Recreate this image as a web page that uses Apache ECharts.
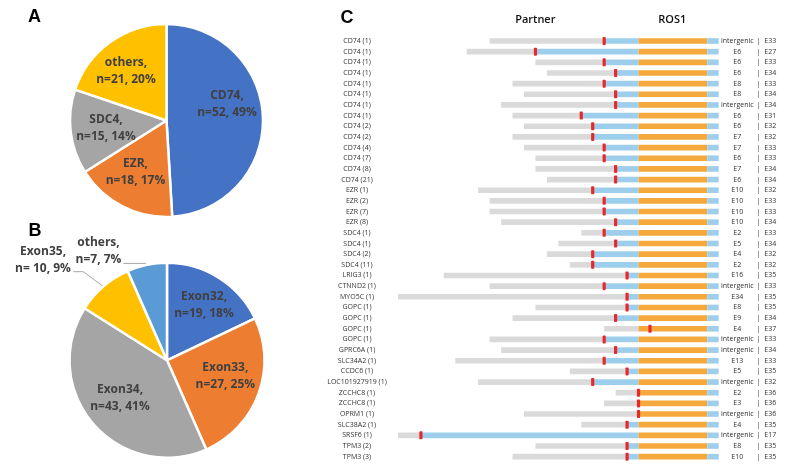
<!DOCTYPE html>
<html><head><meta charset="utf-8">
<script src="https://cdn.jsdelivr.net/npm/echarts@6/dist/echarts.min.js"></script>
<style>html,body{margin:0;padding:0;background:#fff}#c{width:799px;height:476px}</style>
</head><body><div id="c"></div>
<script>
// ---------- DATA ----------
const partnerNames = ['CD74 (1)','CD74 (1)','CD74 (1)','CD74 (1)','CD74 (1)','CD74 (1)','CD74 (1)','CD74 (1)','CD74 (2)','CD74 (2)','CD74 (4)','CD74 (7)','CD74 (8)','CD74 (21)','EZR (1)','EZR (2)','EZR (7)','EZR (8)','SDC4 (1)','SDC4 (1)','SDC4 (2)','SDC4 (11)','LRIG3 (1)','CTNND2 (1)','MYO5C (1)','GOPC (1)','GOPC (1)','GOPC (1)','GOPC (1)','GPRC6A (1)','SLC34A2 (1)','CCDC6 (1)','LOC101927919 (1)','ZCCHC8 (1)','ZCCHC8 (1)','OPRM1 (1)','SLC38A2 (1)','SRSF6 (1)','TPM3 (2)','TPM3 (3)'];
const partnerExons = ['intergenic','E6','E6','E6','E8','E8','intergenic','E6','E6','E7','E7','E6','E7','E6','E10','E10','E10','E10','E2','E5','E4','E2','E16','intergenic','E34','E8','E9','E4','intergenic','intergenic','E13','E5','intergenic','E2','E3','intergenic','E4','intergenic','E8','E10'];
const ros1Exons = ['E33','E27','E33','E34','E33','E34','E34','E31','E32','E32','E33','E33','E34','E34','E32','E33','E33','E34','E33','E34','E32','E32','E35','E33','E35','E35','E34','E37','E33','E34','E33','E35','E32','E36','E36','E36','E35','E17','E35','E35'];
// partner segment start (relative units, ROS1 junction = 0)
const partnerStart = [-13,-15,-9,-8,-11,-10,-12,-11,-10,-11,-10,-9,-9,-8,-14,-13,-13,-12,-5,-7,-8,-6,-17,-13,-21,-9,-11,-3,-13,-12,-16,-6,-14,-2,-3,-10,-5,-21,-9,-11];
// fusion breakpoint (red marker)
const breakpoints = [-3,-9,-3,-2,-3,-2,-2,-5,-4,-4,-3,-3,-2,-2,-4,-3,-3,-2,-3,-2,-4,-4,-1,-3,-1,-1,-2,1,-3,-2,-3,-1,-4,0,0,0,-1,-19,-1,-1];
const ros1Domain = [0, 6];
const ros1End = 7;

const pieANames = ['CD74','EZR','SDC4','others'];
const pieAValues = [52,18,15,21];
const pieBNames = ['Exon32','Exon33','Exon34','Exon35','others'];
const pieBValues = [19,27,43,10,7];

// ---------- LAYOUT / STYLE ----------
const pieAColors = ['#4472C4','#ED7D31','#A5A5A5','#FFC000'];
const pieBColors = ['#4472C4','#ED7D31','#A5A5A5','#FFC000','#5B9BD5'];
const pieALabelXY = [[227,104.5],[135.5,172],[106,128.3],[126,70.7]];
const pieBLabelXY = [[204,305.5],[225.3,376.3],[120,398],[43,260],[98.5,251.3]];
const GRAY = '#dadada', BLUE = '#9dcfec', ORANGE = '#f5a93c', RED = '#e8282b';

const chart = echarts.init(document.getElementById('c'), null, {renderer: 'canvas'});

function pieLabelFmt(sum) {
  return function (p) {
    const pct = Math.round(p.value / sum * 100);
    const sp = p.name === 'Exon35' ? ' ' : '';
    return p.name + ',\nn=' + sp + p.value + ', ' + pct + '%';
  };
}
const sumA = pieAValues.reduce((a, b) => a + b, 0);
const sumB = pieBValues.reduce((a, b) => a + b, 0);

const labelStyle = {
  fontFamily: 'Open Sans', fontSize: 12, fontWeight: 'bold', color: '#404040', lineHeight: 17
};

function renderItem(params, api) {
  const idx = api.value(0), s = api.value(1), bp = api.value(2);
  const band = api.size([0, 1])[1];
  const h = band * 0.53;
  const ch = [];
  function rect(x0, x1, color) {
    const p0 = api.coord([x0, idx]);
    const p1 = api.coord([x1, idx]);
    return {type: 'rect', shape: {x: p0[0], y: p0[1] - h / 2, width: p1[0] - p0[0], height: h}, style: {fill: color}};
  }
  ch.push(rect(s, Math.min(bp, ros1Domain[0]), GRAY));
  if (bp < ros1Domain[0]) ch.push(rect(bp, ros1Domain[0], BLUE));
  ch.push(rect(ros1Domain[0], ros1Domain[1], ORANGE));
  ch.push(rect(ros1Domain[1], ros1End, BLUE));
  const pc = api.coord([bp, idx]);
  ch.push({type: 'rect', shape: {x: pc[0] - 1.6, y: pc[1] - 4, width: 3.2, height: 8, r: 0.8}, style: {fill: RED}});
  return {type: 'group', children: ch};
}

const rowIds = partnerNames.map((_, i) => String(i));
const rows = partnerNames.map((_, i) => [i, partnerStart[i], breakpoints[i]]);

const option = {
  animation: false,
  backgroundColor: '#fff',
  grid: {left: 398, right: 80.3, top: 35.67, bottom: 14, containLabel: false, outerBoundsMode: 'none'},
  xAxis: {type: 'value', min: -21, max: 7, show: false},
  yAxis: [{
    type: 'category', data: rowIds, inverse: true, position: 'left',
    axisLine: {show: false}, axisTick: {show: false}, splitLine: {show: false},
    axisLabel: {
      interval: 0, align: 'center', margin: 41, fontFamily: 'Open Sans', fontSize: 7, color: '#333',
      formatter: (v) => partnerNames[+v]
    }
  }, {
    type: 'category', data: rowIds, inverse: true, position: 'right',
    axisLine: {show: false}, axisTick: {show: false}, splitLine: {show: false},
    axisLabel: {
      interval: 0, align: 'left', margin: 3.6, fontFamily: 'Open Sans', fontSize: 7, color: '#333',
      formatter: (v) => '{a|' + partnerExons[+v] + '}{b||}{c|' + ros1Exons[+v] + '}',
      rich: {
        a: {width: 30, align: 'center', fontFamily: 'Open Sans', fontSize: 7, color: '#333'},
        b: {width: 12, align: 'center', fontFamily: 'Open Sans', fontSize: 7, color: '#333'},
        c: {align: 'left', fontFamily: 'Open Sans', fontSize: 7, color: '#333'}
      }
    }
  }],
  series: [{
    type: 'custom',
    renderItem: renderItem,
    data: rows,
    encode: {x: [1, 2], y: 0},
    xAxisIndex: 0, yAxisIndex: 0,
    clip: false
  }, {
    type: 'pie',
    center: [166.5, 120.5],
    radius: 96.5,
    startAngle: 90,
    clockwise: true,
    avoidLabelOverlap: false,
    itemStyle: {borderColor: '#fff', borderWidth: 2.5},
    label: Object.assign({show: true, position: 'inside', formatter: pieLabelFmt(sumA)}, labelStyle),
    labelLine: {show: false},
    labelLayout: (p) => {
      const xy = pieALabelXY[p.dataIndex];
      return {x: xy[0], y: xy[1], align: 'center', verticalAlign: 'middle'};
    },
    emphasis: {disabled: true},
    data: pieANames.map((n, i) => ({name: n, value: pieAValues[i], itemStyle: {color: pieAColors[i]}}))
  }, {
    type: 'pie',
    center: [167, 360.3],
    radius: 97.5,
    startAngle: 90,
    clockwise: true,
    avoidLabelOverlap: false,
    itemStyle: {borderColor: '#fff', borderWidth: 2.5},
    label: Object.assign({show: true, position: 'inside', formatter: pieLabelFmt(sumB)}, labelStyle),
    labelLine: {show: false},
    labelLayout: (p) => {
      const xy = pieBLabelXY[p.dataIndex];
      const o = {x: xy[0], y: xy[1], align: 'center', verticalAlign: 'middle'};
      if (p.labelLinePoints && p.labelLinePoints.length) {
        const a = p.labelLinePoints[0];
        if (p.dataIndex === 3) o.labelLinePoints = [[a[0], a[1]], [83.3, xy[1] + 11.7], [73.3, xy[1] + 11.7]];
        if (p.dataIndex === 4) o.labelLinePoints = [[a[0], a[1]], [a[0] - 1, a[1] - 1.5], [123.3, a[1] - 1.5]];
      }
      return o;
    },
    emphasis: {disabled: true},
    data: pieBNames.map((n, i) => {
      const d = {name: n, value: pieBValues[i], itemStyle: {color: pieBColors[i]}};
      if (i >= 3) {
        d.label = {position: 'outside'};
        d.labelLine = {show: true, length: 8, length2: 10, lineStyle: {color: '#a6a6a6', width: 1}};
      }
      return d;
    })
  }],
  graphic: [
    {type: 'text', x: 34.5, y: 17.5, style: {text: 'A', font: 'bold 18px "Liberation Sans", Arial', fill: '#000', textAlign: 'center', textVerticalAlign: 'middle'}},
    {type: 'text', x: 35, y: 231.5, style: {text: 'B', font: 'bold 18px "Liberation Sans", Arial', fill: '#000', textAlign: 'center', textVerticalAlign: 'middle'}},
    {type: 'text', x: 347, y: 18, style: {text: 'C', font: 'bold 18px "Liberation Sans", Arial', fill: '#000', textAlign: 'center', textVerticalAlign: 'middle'}},
    {type: 'text', x: 535.3, y: 19.5, style: {text: 'Partner', font: '600 11px "Open Sans"', fill: '#111', textAlign: 'center', textVerticalAlign: 'middle'}},
    {type: 'text', x: 672.3, y: 19.5, style: {text: 'ROS1', font: '600 11px "Open Sans"', fill: '#111', textAlign: 'center', textVerticalAlign: 'middle'}}
  ]
};
chart.setOption(option);
</script>
</body></html>
